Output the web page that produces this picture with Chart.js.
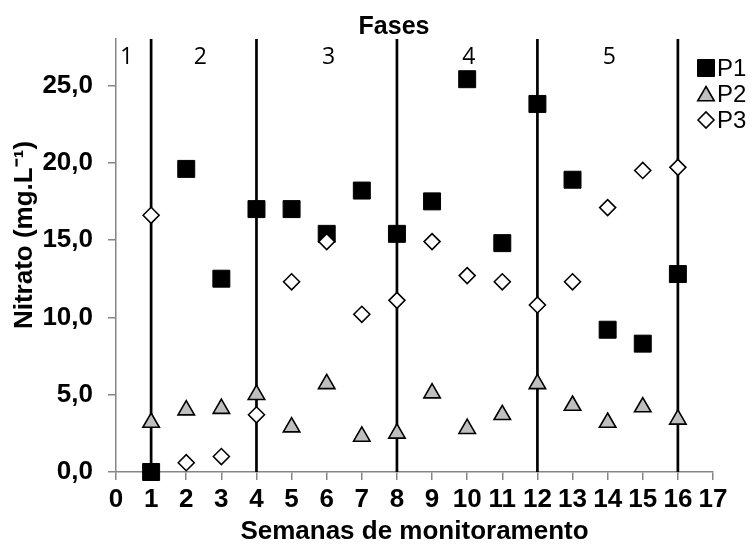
<!DOCTYPE html>
<html>
<head>
<meta charset="utf-8">
<script src="https://cdn.jsdelivr.net/npm/chart.js@4.4.1/dist/chart.umd.min.js"></script>
<style>
  html, body { margin: 0; padding: 0; background: #fff; }
  #wrap { width: 754px; height: 547px; position: relative; }
</style>
</head>
<body>
<div id="wrap"><canvas id="chartCanvas"></canvas></div>
<script>
// ---------------- data ----------------
const weeks = [1, 2, 3, 4, 5, 6, 7, 8, 9, 10, 11, 12, 13, 14, 15, 16];
const p1 = [0.0, 19.6, 12.5, 17.0, 17.0, 15.4, 18.2, 15.4, 17.5, 25.4, 14.8, 23.8, 18.9, 9.2, 8.3, 12.8];
const p2 = [3.2, 4.0, 4.1, 5.0, 2.9, 5.7, 2.3, 2.5, 5.1, 2.8, 3.7, 5.7, 4.3, 3.2, 4.2, 3.4];
const p3 = [16.6, 0.6, 1.0, 3.7, 12.3, 14.9, 10.2, 11.1, 14.9, 12.7, 12.3, 10.8, 12.3, 17.1, 19.5, 19.7];

const phaseBounds = [1, 4, 8, 12, 16];
const phaseLabels = ['1', '2', '3', '4', '5'];
const phaseLabelX = [0.3, 2.4, 6.05, 10.05, 14.05];
const phaseLabelY = 26.8;

const xMin = 0, xMax = 17;
const yMin = 0, yMax = 28;

const AXIS_GRAY = '#868686';
const FONT = '"Liberation Sans", Arial, sans-serif';

const toPts = arr => arr.map((v, i) => ({ x: weeks[i], y: v }));

// ---------------- datasets ----------------
const series = [
  { label: 'P1', data: toPts(p1), pointStyle: 'rect', pointRadius: 12,
    backgroundColor: '#000', borderColor: '#000', pointBorderWidth: 1, order: 3 },
  { label: 'P2', data: toPts(p2), pointStyle: 'triangle', pointRadius: 9.5,
    backgroundColor: '#bfbfbf', borderColor: '#000', pointBorderWidth: 1.6, order: 2 },
  { label: 'P3', data: toPts(p3), pointStyle: 'rectRot', pointRadius: 8,
    backgroundColor: '#fff', borderColor: '#000', pointBorderWidth: 1.6, order: 1 }
];

const datasets = series.map(s => Object.assign({
  type: 'scatter', showLine: false, clip: false, pointHoverRadius: s.pointRadius
}, s));

phaseBounds.forEach(b => {
  datasets.push({
    type: 'line', label: '_fase' + b,
    data: [{ x: b, y: yMin }, { x: b, y: yMax }],
    borderColor: '#000', borderWidth: 2.7, pointRadius: 0, order: 10, clip: false
  });
});

// ---------------- extra drawing (title, fases, legend, y title) ----------------
const extras = {
  id: 'extras',
  afterDraw(chart) {
    const { ctx, scales: { x, y } } = chart;
    ctx.save();
    ctx.fillStyle = '#000';
    ctx.textAlign = 'center';
    ctx.textBaseline = 'middle';

    // title
    ctx.font = 'bold 25px ' + FONT;
    ctx.fillText('Fases', 394, 27);

    // phase numbers
    ctx.font = '23px "Open Sans", "Noto Sans", sans-serif';
    phaseLabels.forEach((t, i) => {
      ctx.fillText(t, x.getPixelForValue(phaseLabelX[i]), y.getPixelForValue(phaseLabelY));
    });

    // y title
    ctx.save();
    ctx.translate(25, 235);
    ctx.rotate(-Math.PI / 2);
    ctx.font = 'bold 26px ' + FONT;
    ctx.fillText('Nitrato (mg.L⁻¹)', 0, 0);
    ctx.restore();

    // legend
    const lx = 706, ly0 = 68, step = 26;
    ctx.font = '24px ' + FONT;
    ctx.textAlign = 'left';
    series.forEach((s, i) => {
      const cy = ly0 + i * step;
      ctx.fillStyle = s.backgroundColor;
      ctx.strokeStyle = s.borderColor;
      ctx.lineWidth = s.pointBorderWidth;
      Chart.helpers.drawPoint(ctx, {
        pointStyle: s.pointStyle, radius: s.pointRadius,
        rotation: 0, borderWidth: s.pointBorderWidth
      }, lx, cy + (s.pointStyle === 'triangle' ? 2 : 0));
      ctx.fillStyle = '#000';
      ctx.fillText(s.label, 717, cy + 1);
    });
    ctx.restore();
  }
};

// ---------------- chart ----------------
const ctx = document.getElementById('chartCanvas').getContext('2d');
const chart = new Chart(ctx, {
  data: { datasets },
  options: {
    responsive: true,
    maintainAspectRatio: false,
    animation: false,
    events: [],
    layout: { padding: { top: 39, right: 41, left: 0, bottom: 0 } },
    plugins: { legend: { display: false }, title: { display: false }, tooltip: { enabled: false } },
    scales: {
      x: {
        type: 'linear', min: xMin, max: xMax,
        afterFit: s => { s.height = 75; },
        border: { color: AXIS_GRAY, width: 1.5 },
        grid: { drawOnChartArea: false, color: AXIS_GRAY, tickLength: 8, lineWidth: 1.5 },
        ticks: { stepSize: 1, padding: 4, color: '#000', font: { family: FONT, size: 26, weight: 'bold' } },
        title: {
          display: true, text: 'Semanas de monitoramento', color: '#000',
          font: { family: FONT, size: 26, weight: 'bold' }, padding: { top: 0, bottom: 0 }
        }
      },
      y: {
        type: 'linear', min: yMin, max: yMax,
        afterFit: s => { s.width = 116; },
        afterBuildTicks: s => { s.ticks = s.ticks.filter(t => t.value % 5 === 0); },
        border: { color: AXIS_GRAY, width: 1.5 },
        grid: { drawOnChartArea: false, color: AXIS_GRAY, tickLength: 8, lineWidth: 1.5 },
        ticks: {
          stepSize: 5, padding: 15, color: '#000',
          font: { family: FONT, size: 26, weight: 'bold' },
          callback: v => v.toFixed(1).replace('.', ',')
        }
      }
    }
  },
  plugins: [extras]
});
</script>
</body>
</html>
